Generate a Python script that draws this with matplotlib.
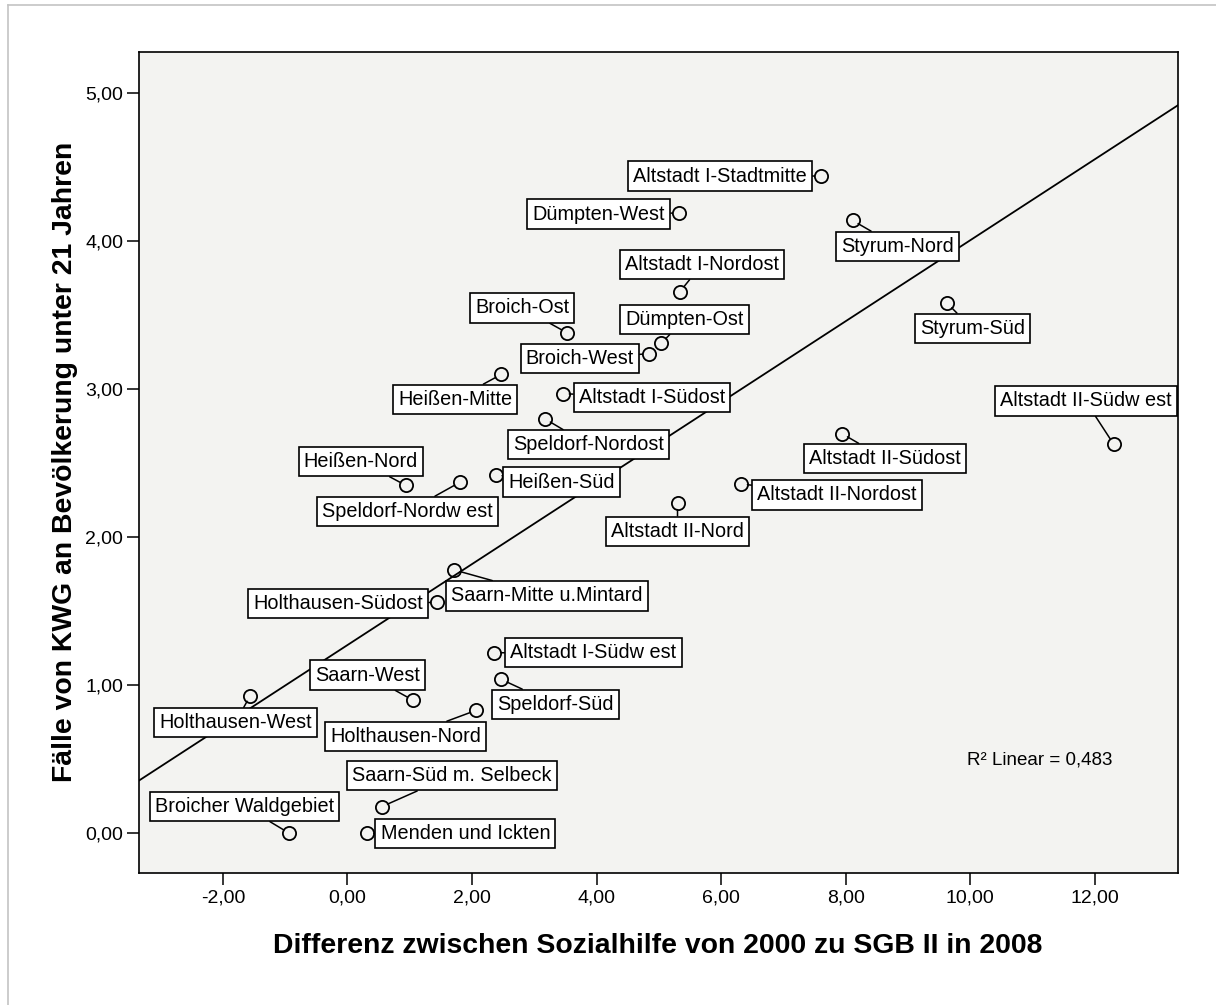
import matplotlib
matplotlib.use("Agg")
import matplotlib.pyplot as plt
import numpy as np
from matplotlib.lines import Line2D

plt.rcParams['font.family'] = ['Liberation Sans', 'DejaVu Sans']

# Stadtteile, x = Differenz Sozialhilfe 2000 -> SGB II 2008, y = KWG-Faelle
names = ['Altstadt I-Stadtmitte', 'Dümpten-West', 'Styrum-Nord', 'Altstadt I-Nordost',
         'Styrum-Süd', 'Broich-Ost', 'Dümpten-Ost', 'Broich-West', 'Heißen-Mitte',
         'Altstadt I-Südost', 'Speldorf-Nordost', 'Altstadt II-Südost', 'Altstadt II-Südw est',
         'Heißen-Süd', 'Speldorf-Nordw est', 'Heißen-Nord', 'Altstadt II-Nordost',
         'Altstadt II-Nord', 'Saarn-Mitte u.Mintard', 'Holthausen-Südost',
         'Altstadt I-Südw est', 'Speldorf-Süd', 'Holthausen-West', 'Saarn-West',
         'Holthausen-Nord', 'Saarn-Süd m. Selbeck', 'Broicher Waldgebiet', 'Menden und Ickten']
x_vals = [7.60, 5.32, 8.11, 5.34,
          9.63, 3.53, 5.04, 4.84, 2.47,
          3.46, 3.17, 7.94, 12.30,
          2.38, 1.80, 0.94, 6.32,
          5.30, 1.71, 1.44,
          2.36, 2.47, -1.56, 1.05,
          2.06, 0.55, -0.93, 0.32]
y_vals = [4.44, 4.19, 4.14, 3.66,
          3.58, 3.38, 3.31, 3.24, 3.10,
          2.97, 2.80, 2.70, 2.63,
          2.42, 2.37, 2.35, 2.36,
          2.23, 1.78, 1.56,
          1.22, 1.04, 0.93, 0.90,
          0.83, 0.18, 0.00, 0.00]

# label box offsets from the point, in pixels (right, up)
label_dx = [-101, -80, 45, 22, 25, -45, 23, -69, -46, 89, 44, 43, -28, 66, -52, -45, 96, 0,
            93, -99, 99, 54, -15, -45, -70, 70, -45, 98]
label_dy = [0, -1, -26, 27, -25, 25, 24, -5, -25, -4, -26, -25, 43, -7, -29, 24, -11, -28,
            -26, -1, 0, -25, -27, 25, -26, 31, 27, 0]

xticks = [-2, 0, 2, 4, 6, 8, 10, 12]
yticks = [0, 1, 2, 3, 4, 5]

fig = plt.figure(figsize=(12.16, 10.05), dpi=100)
ax = fig.add_axes([0.1146, 0.131, 0.8544, 0.8176])
ax.set_facecolor('#f3f3f1')

ax.set_xlim(-3.34, 13.34)
ax.set_ylim(-0.27, 5.28)

# regression line across the whole plot
slope, intercept = np.polyfit(x_vals, y_vals, 1)
xl = np.array(ax.get_xlim())
ax.plot(xl, intercept + slope * xl, color='black', lw=1.3, zorder=2)

ax.plot(x_vals, y_vals, 'o', mfc='none', mec='black', ms=9.5, mew=1.3, zorder=3)

for n, x, y, dx, dy in zip(names, x_vals, y_vals, label_dx, label_dy):
    ax.annotate(n, (x, y), xytext=(dx, dy), textcoords='offset pixels',
                ha='center', va='center', fontsize=14.3, zorder=4,
                bbox=dict(boxstyle='square,pad=0.26', fc='white', ec='black', lw=1.2),
                arrowprops=dict(arrowstyle='-', color='black', lw=1.1,
                                shrinkA=0, shrinkB=4.6))

ax.text(0.7966, 0.1379, 'R² Linear = 0,483', transform=ax.transAxes,
        fontsize=13.5, ha='left', va='center')

ax.set_xticks(xticks)
ax.set_yticks(yticks)
ax.set_xticklabels([f'{v:.2f}'.replace('.', ',') for v in xticks])
ax.set_yticklabels([f'{v:.2f}'.replace('.', ',') for v in yticks])
ax.tick_params(direction='out', length=8.6, width=1.1, labelsize=14, pad=3)

for s in ax.spines.values():
    s.set_linewidth(1.2)

fig.text(658 / 1216, 1 - 946 / 1005, 'Differenz zwischen Sozialhilfe von 2000 zu SGB II in 2008',
         fontsize=20.4, fontweight='bold', ha='center', va='center')
fig.text(65 / 1216, 1 - 462 / 1005, 'Fälle von KWG an Bevölkerung unter 21 Jahren',
         fontsize=20.4, fontweight='bold', ha='center', va='center', rotation=90)

# grey frame around the chart (only left and top edges visible)
fig.add_artist(Line2D([8 / 1216, 8 / 1216], [0, 1 - 5 / 1005], color='#c4c4c4', lw=1.2))
fig.add_artist(Line2D([8 / 1216, 1], [1 - 5 / 1005, 1 - 5 / 1005], color='#c4c4c4', lw=1.2))

fig.savefig('out.png', dpi=100)
